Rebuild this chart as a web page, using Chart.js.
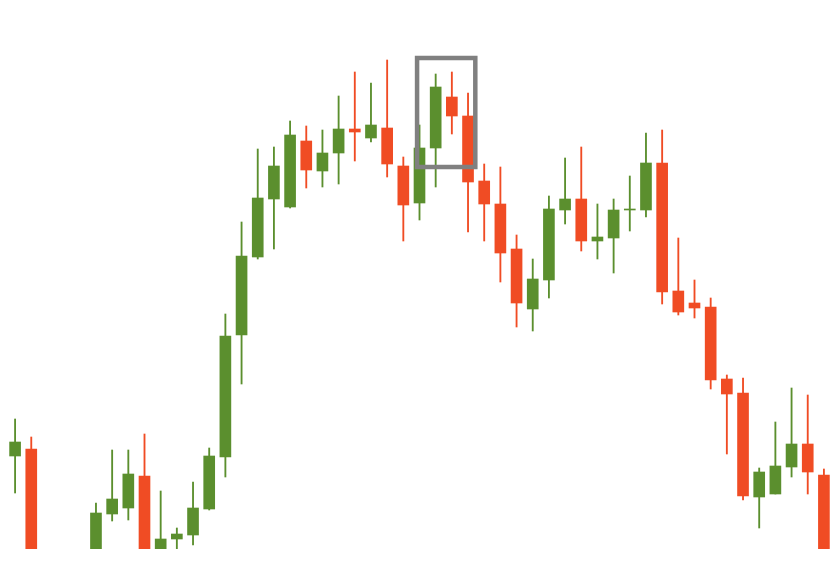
<!DOCTYPE html>
<html>
<head>
<meta charset="utf-8">
<script src="https://cdn.jsdelivr.net/npm/chart.js@4/dist/chart.umd.min.js"></script>
<style>
  html, body { margin: 0; padding: 0; background: #ffffff; }
  #wrap { width: 837px; height: 565px; }
</style>
</head>
<body>
<div id="wrap"><canvas id="velas" width="837" height="565"></canvas></div>
<script>
// Datos de las velas (precio en unidades arbitrarias)
const opens  = [144, 151, 20, 5, 25, 25, 86, 92, 124, 45, 61, 65, 91, 143, 265, 343, 401, 393, 459, 429, 447, 471, 462, 472, 434, 397, 452, 503, 484, 419, 396, 351, 291, 320, 390, 401, 359, 362, 390, 390, 437, 309, 297, 293, 221, 207, 103, 106, 133, 156, 125];
const highs  = [181, 163, 30, 35, 45, 97, 150, 150, 166, 109, 72, 118, 152, 286, 378, 451, 453, 479, 474, 470, 504, 528, 517, 540, 443, 475, 526, 528, 507, 436, 433, 365, 341, 404, 442, 453, 396, 401, 424, 467, 470, 362, 320, 302, 225, 222, 132, 178, 212, 205, 131];
const lows   = [107, 10, 0, 0, 20, 20, 79, 80, 30, 35, 45, 55, 90, 123, 216, 341, 351, 392, 412, 413, 416, 439, 458, 423, 359, 380, 413, 466, 368, 359, 318, 273, 269, 302, 376, 349, 341, 327, 369, 383, 296, 285, 282, 211, 146, 100, 72, 106, 123, 106, 30];
const closes = [158, 20, 5, 25, 40, 87, 101, 126, 40, 61, 66, 92, 144, 264, 344, 402, 434, 465, 430, 447, 471, 468, 475, 436, 395, 452, 513, 484, 418, 396, 347, 297, 321, 391, 401, 359, 363, 390, 391, 437, 308, 288, 292, 220, 206, 104, 128, 134, 156, 128, 40];
const labels = opens.map((_, i) => "D" + (i + 1));

// Recuadro de resaltado (indices de vela y precios)
const boxFrom = 24.85;
const boxTo = 28.45;
const boxTop = 542;
const boxBottom = 433;

const verde = "#5b8f2e";
const rojo = "#f04c24";
const colores = opens.map((o, i) => (closes[i] >= o ? verde : rojo));

const recuadro = {
  id: "recuadro",
  afterDatasetsDraw(chart) {
    const { ctx, scales } = chart;
    const x1 = scales.x.getPixelForValue(boxFrom);
    const x2 = scales.x.getPixelForValue(boxTo);
    const y1 = scales.y.getPixelForValue(boxTop);
    const y2 = scales.y.getPixelForValue(boxBottom);
    ctx.save();
    ctx.strokeStyle = "#808080";
    ctx.lineWidth = 4.5;
    ctx.strokeRect(x1, y1, x2 - x1, y2 - y1);
    ctx.restore();
  }
};

const ctx = document.getElementById("velas").getContext("2d");
new Chart(ctx, {
  type: "bar",
  data: {
    labels: labels,
    datasets: [
      {
        label: "Cuerpo",
        data: opens.map((o, i) => [o, closes[i]]),
        backgroundColor: colores,
        borderWidth: 0,
        barThickness: 11,
        grouped: false,
        order: 0
      },
      {
        label: "Mecha",
        data: lows.map((l, i) => [l, highs[i]]),
        backgroundColor: colores,
        borderWidth: 0,
        barThickness: 1.2,
        grouped: false,
        order: 1
      }
    ]
  },
  options: {
    responsive: false,
    animation: false,
    layout: { padding: { left: 7, right: 5, top: 0, bottom: 16 } },
    scales: {
      x: { display: false, offset: true },
      y: { display: false, min: 51, max: 600 }
    },
    plugins: {
      legend: { display: false },
      tooltip: { enabled: false }
    }
  },
  plugins: [recuadro]
});
</script>
</body>
</html>
